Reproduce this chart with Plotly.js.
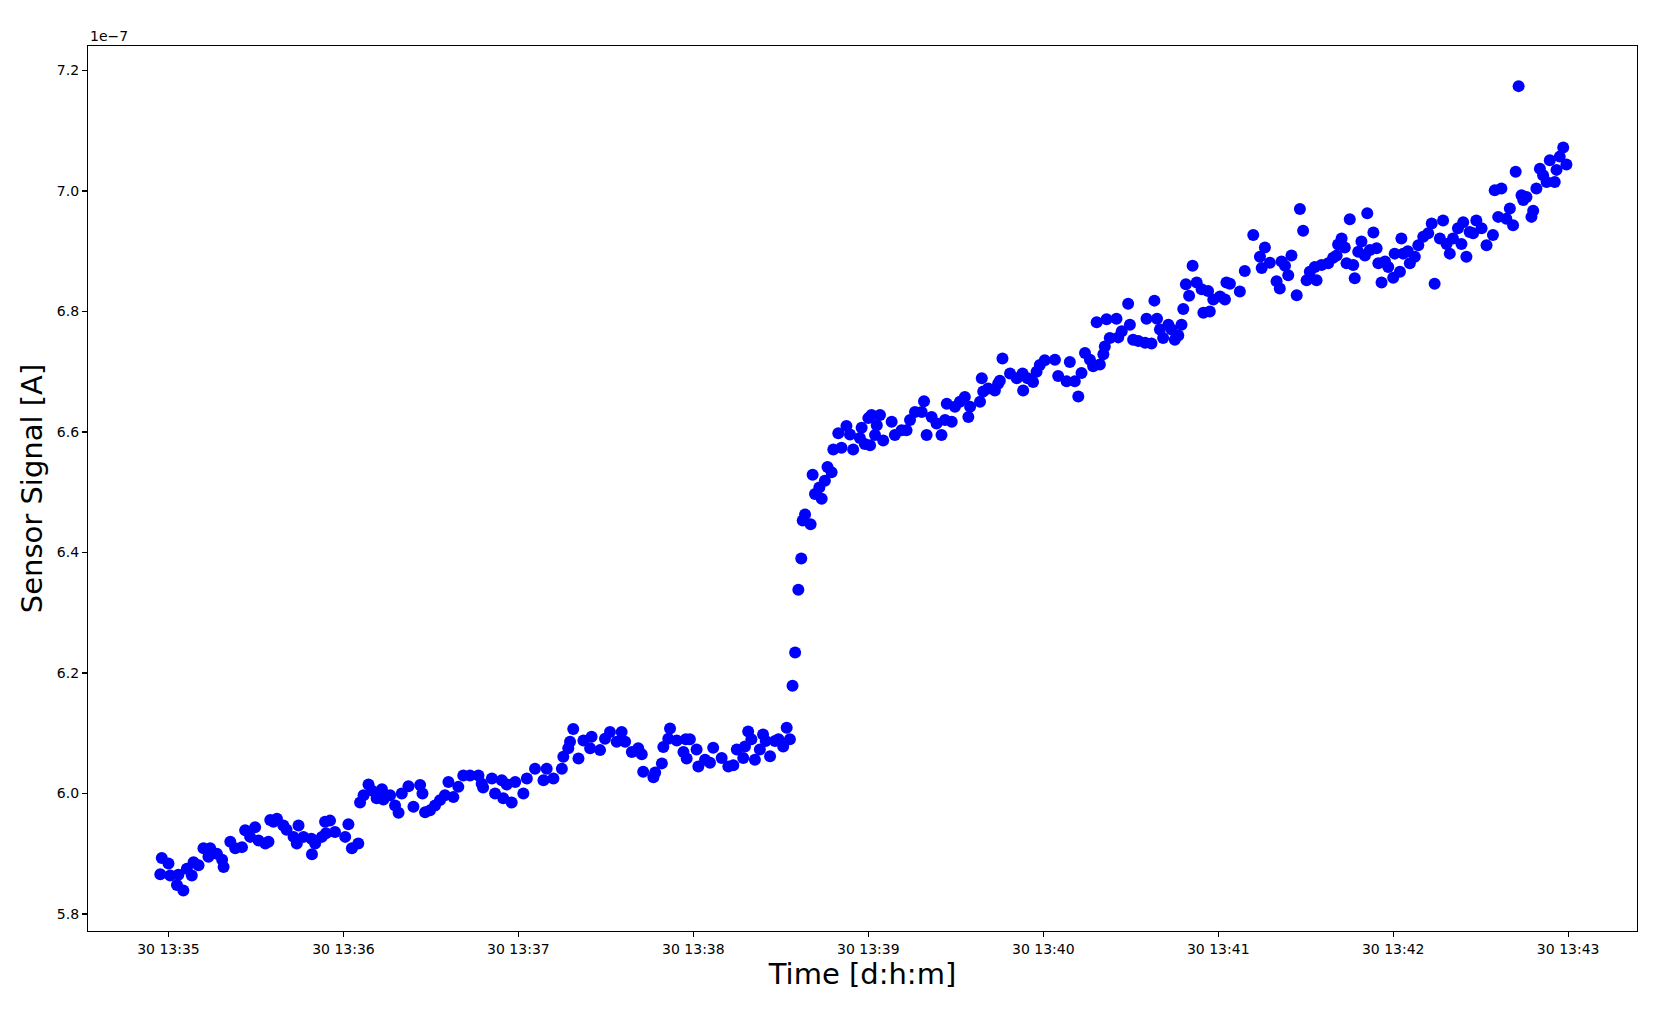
<!DOCTYPE html>
<html>
<head>
<meta charset="utf-8">
<script src="https://cdn.plot.ly/plotly-3.0.1.min.js"></script>
<style>
  html, body { margin: 0; padding: 0; background: #ffffff; }
  #chart { width: 1665px; height: 1014px; }
</style>
</head>
<body>
<div id="chart"></div>
<script>
// Seconds relative to 30 13:35:00
const secondsFrom1335 = [
  -2.8, -2.3, 0.0, 0.6, 2.9, 3.4, 5.1, 6.3, 8.0, 8.6, 10.3, 12.0, 13.7, 14.3, 16.6, 18.4, 18.9, 21.2, 22.9, 25.2,
  26.3, 28.0, 29.7, 30.9, 33.2, 34.3, 34.9, 36.0, 37.2, 39.4, 40.5, 42.9, 44.0, 44.6, 46.3, 49.0, 49.2, 50.3, 52.6, 53.7,
  54.0, 55.4, 57.1, 60.6, 61.7, 62.9, 65.1, 65.7, 66.9, 68.6, 69.7, 71.4, 73.2, 73.7, 76.0, 77.7, 78.9, 80.0, 82.3, 84.0,
  86.3, 87.1, 88.0, 89.7, 91.4, 93.1, 94.8, 96.0, 97.7, 99.4, 101.1, 103.4, 106.3, 107.4, 107.9, 110.9, 112.0, 114.3, 114.8, 116.0,
  117.7, 118.9, 121.7, 122.9, 125.7, 128.6, 129.7, 132.0, 134.9, 135.4, 137.1, 137.7, 138.8, 140.6, 142.3, 144.6, 145.1, 148.0, 149.7, 151.4,
  153.7, 155.4, 156.6, 158.9, 161.1, 162.3, 162.8, 166.3, 166.9, 169.2, 169.7, 171.4, 172.0, 174.3, 176.6, 177.4, 177.7,
  178.8, 181.1, 181.7, 184.0, 185.7, 186.8, 189.7, 192.0, 193.7, 194.9, 197.1, 197.7, 198.8, 199.9, 201.1, 202.8, 203.9, 204.8, 206.3, 208.0,
  209.2, 210.8, 212.0, 213.1, 214.0, 214.9, 216.0, 217.0, 217.5, 218.3, 220.2, 220.9, 221.7, 223.2, 224.0, 225.1, 226.0, 227.4, 228.0, 229.7,
  230.8, 232.5, 233.7, 234.8, 237.1, 237.7, 238.8, 240.0,
  240.6, 241.1, 242.3, 242.9, 244.0, 245.1, 248.0, 249.1, 251.4, 253.1, 254.3, 256.0, 258.3, 259.1, 260.0, 261.7, 263.4, 265.1, 266.3, 266.9,
  268.6, 269.7, 271.4, 273.1, 274.3, 274.9, 278.3, 278.9, 279.4, 281.1, 283.4, 284.5, 285.1, 286.0, 288.6, 290.9, 292.9, 293.1, 294.6, 296.5,
  297.7, 298.8, 300.5,
  304.0, 305.1, 308.0, 309.1, 310.8, 312.0, 313.1, 314.3, 316.0, 317.1, 318.3, 319.4, 320.6, 321.1, 321.7, 322.8, 325.1, 325.7, 326.9, 329.1,
  329.7, 330.8, 332.6, 334.9, 335.4, 337.1, 338.1, 339.0, 340.0, 341.1, 342.9, 344.0, 345.1, 346.3, 347.4, 348.0, 348.9, 350.0, 351.2, 352.6,
  354.3, 354.9, 356.5, 357.1, 358.3, 360.6, 362.3, 362.8,
  364.0, 367.4, 369.1, 372.0, 374.3, 374.9, 376.0, 377.7, 380.0, 381.1, 381.7, 382.9, 384.0, 385.1, 386.9, 388.0, 389.1, 390.3, 391.4, 393.1,
  393.7, 395.4, 397.7, 399.4, 400.6, 401.1, 402.3, 403.4, 404.0, 405.1, 406.3, 406.8, 408.0, 409.1, 410.3, 411.1, 412.0, 413.2, 414.3, 414.9,
  416.0, 417.2, 418.3, 420.0, 420.5, 422.3, 422.8, 423.4, 425.0,
  425.7, 427.4, 428.6, 430.3, 432.0, 433.2, 434.2, 436.0, 437.1, 438.3, 439.4, 440.5, 442.2, 443.4, 444.0, 445.1, 446.2, 447.4, 448.5, 450.3,
  452.0, 454.2, 454.8, 456.0, 457.1, 458.8, 460.0, 461.1, 462.0, 463.0, 464.0, 464.6, 465.7, 467.4, 468.0, 469.1, 470.3, 471.4, 472.6, 473.7,
  475.4, 476.0, 477.1, 478.3, 479.4
];

// Sensor signal in units of 1e-7 A
const signal_1e7 = [
  5.866, 5.893, 5.884, 5.864, 5.848, 5.865, 5.839, 5.875, 5.864, 5.886, 5.881, 5.909, 5.895, 5.909, 5.900, 5.890, 5.878, 5.920, 5.909, 5.911,
  5.939, 5.928, 5.944, 5.922, 5.917, 5.920, 5.956, 5.953, 5.958, 5.947, 5.940, 5.928, 5.917, 5.947, 5.928, 5.925, 5.899, 5.917, 5.928, 5.953,
  5.934, 5.955, 5.936, 5.928, 5.949, 5.909, 5.917, 5.985, 5.997, 6.015, 6.005, 5.992, 6.007, 5.990, 5.997, 5.980, 5.968, 6.000, 6.012, 5.978,
  6.014, 6.000, 5.969, 5.972, 5.980, 5.989, 5.997, 6.019, 5.994, 6.011, 6.030, 6.030, 6.030, 6.016, 6.010, 6.025, 6.000, 6.022, 5.992, 6.015,
  5.985, 6.019, 6.000, 6.025, 6.041, 6.022, 6.041, 6.025, 6.041, 6.061, 6.075, 6.086, 6.107, 6.058, 6.088, 6.075, 6.094, 6.072, 6.091, 6.102,
  6.086, 6.102, 6.086, 6.069, 6.075, 6.065, 6.036, 6.027, 6.035, 6.050, 6.077, 6.091, 6.108, 6.088, 6.069, 6.090, 6.058,
  6.090, 6.073, 6.045, 6.056, 6.051, 6.076, 6.059, 6.045, 6.047, 6.073, 6.059, 6.078, 6.103, 6.090, 6.056, 6.073, 6.098, 6.087, 6.062, 6.087,
  6.090, 6.078, 6.109, 6.090, 6.179, 6.234, 6.338, 6.390, 6.453, 6.463, 6.447, 6.529, 6.497, 6.508, 6.489, 6.519, 6.542, 6.533, 6.571, 6.598,
  6.574, 6.610, 6.596, 6.571, 6.590, 6.607, 6.580, 6.623,
  6.578, 6.628, 6.595, 6.611, 6.628, 6.586, 6.617, 6.595, 6.603, 6.603, 6.620, 6.633, 6.633, 6.651, 6.595, 6.625, 6.614, 6.595, 6.620, 6.647,
  6.617, 6.642, 6.650, 6.658, 6.625, 6.642, 6.650, 6.689, 6.667, 6.672, 6.669, 6.680, 6.685, 6.722, 6.697, 6.689, 6.697, 6.669, 6.689, 6.683,
  6.700, 6.711, 6.719,
  6.720, 6.693, 6.684, 6.716, 6.684, 6.659, 6.698, 6.731, 6.720, 6.709, 6.782, 6.712, 6.729, 6.742, 6.787, 6.756, 6.788, 6.757, 6.767, 6.813,
  6.778, 6.753, 6.751, 6.748, 6.788, 6.747, 6.818, 6.788, 6.770, 6.756, 6.778, 6.770, 6.753, 6.760, 6.778, 6.804, 6.845, 6.826, 6.876, 6.848,
  6.837, 6.798, 6.834, 6.800, 6.820, 6.825, 6.820, 6.848,
  6.846, 6.833, 6.867, 6.927, 6.891, 6.872, 6.906, 6.881, 6.850, 6.838, 6.883, 6.876, 6.860, 6.893, 6.827, 6.970, 6.934, 6.852, 6.866, 6.874,
  6.852, 6.877, 6.880, 6.889, 6.893, 6.911, 6.921, 6.906, 6.880, 6.953, 6.877, 6.855, 6.899, 6.916, 6.893, 6.963, 6.902, 6.931, 6.905, 6.880,
  6.848, 6.883, 6.874, 6.856, 6.896, 6.866, 6.921, 6.896, 6.900,
  6.880, 6.891, 6.910, 6.924, 6.930, 6.946, 6.846, 6.921, 6.951, 6.912, 6.896, 6.921, 6.938, 6.912, 6.948, 6.891, 6.932, 6.930, 6.951, 6.938,
  6.910, 6.927, 7.001, 6.957, 7.004, 6.954, 6.971, 6.943, 7.032, 7.174, 6.993, 6.985, 6.990, 6.957, 6.967, 7.004, 7.037, 7.026, 7.015, 7.051,
  7.015, 7.035, 7.057, 7.072, 7.044
];

const yTickValues = [5.8, 6.0, 6.2, 6.4, 6.6, 6.8, 7.0, 7.2];
const xTitle = 'Time [d:h:m]';
const yTitle = 'Sensor Signal [A]';
const offsetText = '1e\u22127';

function pad2(n) { return (n < 10 ? '0' : '') + n; }
function toStamp(sec) {
  const total = 35 * 60 + sec;
  const m = Math.floor(total / 60);
  const s = total - m * 60;
  return '2021-04-30 13:' + pad2(m) + ':' + (s < 10 ? '0' : '') + s.toFixed(1);
}
const times = secondsFrom1335.map(toStamp);

const font = 'DejaVu Sans, Liberation Sans, sans-serif';

const trace = {
  type: 'scatter',
  mode: 'markers',
  x: times,
  y: signal_1e7,
  marker: { color: '#0000ff', size: 12, line: { width: 0 } },
  hoverinfo: 'x+y'
};

const layout = {
  width: 1665,
  height: 1014,
  margin: { l: 88, r: 28, t: 46, b: 83, pad: 0 },
  paper_bgcolor: '#ffffff',
  plot_bgcolor: '#ffffff',
  showlegend: false,
  font: { family: font, color: '#000000', size: 14 },
  xaxis: {
    type: 'date',
    range: ['2021-04-30 13:34:32.4', '2021-04-30 13:43:23.6'],
    tick0: '2021-04-30 13:35:00',
    dtick: 60000,
    tickformat: '%d %H:%M',
    showgrid: false,
    zeroline: false,
    showline: true,
    mirror: true,
    linecolor: '#000000',
    linewidth: 1.1,
    ticks: 'outside',
    ticklen: 5,
    tickwidth: 1.1,
    tickcolor: '#000000',
    tickfont: { family: font, size: 14, color: '#000000' },
    automargin: false,
    title: { text: xTitle, font: { family: font, size: 29, color: '#000000' }, standoff: 6 }
  },
  yaxis: {
    range: [5.7718, 7.2406],
    tickvals: yTickValues,
    ticktext: yTickValues.map(v => v.toFixed(1)),
    showgrid: false,
    zeroline: false,
    showline: true,
    mirror: true,
    linecolor: '#000000',
    linewidth: 1.1,
    ticks: 'outside',
    ticklen: 5,
    tickwidth: 1.1,
    tickcolor: '#000000',
    tickfont: { family: font, size: 14, color: '#000000' },
    automargin: false,
    title: { text: yTitle, font: { family: font, size: 29, color: '#000000' }, standoff: 5 }
  },
  annotations: [{
    text: offsetText,
    xref: 'paper', yref: 'paper',
    x: 0, y: 1,
    xanchor: 'left', yanchor: 'bottom',
    yshift: 0,
    showarrow: false,
    font: { family: font, size: 14, color: '#000000' }
  }]
};

Plotly.newPlot('chart', [trace], layout, { displayModeBar: false, staticPlot: true });
</script>
</body>
</html>
